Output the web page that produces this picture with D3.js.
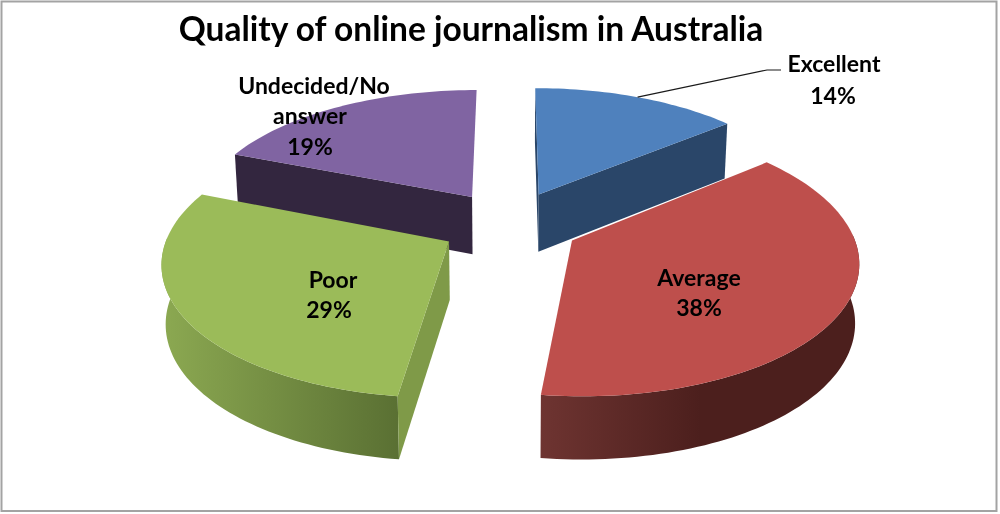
<!DOCTYPE html>
<html>
<head>
<meta charset="utf-8">
<script src="https://cdn.jsdelivr.net/npm/d3@7"></script>
<style>
    html, body { margin: 0; padding: 0; background: #fff; }
    svg { display: block; filter: blur(0.4px); }
    text { font-family: Lato, "Open Sans", sans-serif; font-weight: 700; fill: #000; text-anchor: middle; }
</style>
</head>
<body>
<div id="chartContainer"></div>
<script>
const titleText = "Quality of online journalism in Australia";
const categories = ["Excellent", "Average", "Poor", "Undecided/No answer"];
const shares = [14, 38, 29, 19];

const width = 1000;
const height = 514;

// projection of the pie plane, fitted by eye to the reference
const cx = 510, cy = 224;
const radiusX = 278, radiusY = 129;
const perspective = 0.14;
const explodeX = 0.25, explodeY = 0.26;
const thickness = 58;

// walls: which cut faces can be seen from the camera
const styles = [
    { top: "#4f81bd", side: "#2a4669", wall: "#2a4669", walls: ["startAngle", "endAngle"] },
    { top: "#be4f4c", side: "url(#redWall)", wall: "#4c1f1d", walls: [] },
    { top: "#9bbb59", side: "url(#greenWall)", wall: "#7f9a48", walls: ["startAngle"] },
    { top: "#8064a2", side: "#33263f", wall: "#33263f", walls: ["startAngle"] }
];

const labelLines = [
    { x: [834], y: [72], pctX: 833, pct: 104 },
    { x: [699], y: [286], pctX: 699, pct: 316 },
    { x: [333], y: [288], pctX: 329, pct: 318 },
    { x: [314, 310], y: [94, 124], pctX: 310, pct: 155 }
];

const svg = d3.select("#chartContainer")
    .append("svg")
    .attr("width", width)
    .attr("height", height);

const defs = svg.append("defs");

function addGradient(id, x1, x2, from, to, stopAt) {
    const g = defs.append("linearGradient")
        .attr("id", id)
        .attr("gradientUnits", "userSpaceOnUse")
        .attr("x1", x1).attr("x2", x2)
        .attr("y1", 0).attr("y2", 0);
    g.append("stop").attr("offset", 0).attr("stop-color", from);
    g.append("stop").attr("offset", stopAt).attr("stop-color", to);
}
addGradient("redWall", 541, 860, "#6e3431", "#4c1f1d", 0.5);
addGradient("greenWall", 165, 398, "#8ba851", "#5a7033", 1);

svg.append("rect")
    .attr("x", 1.5).attr("y", 1.5)
    .attr("width", 995).attr("height", 509.5)
    .attr("fill", "#fff")
    .attr("stroke", "#a3a3a3")
    .attr("stroke-width", 2);

svg.append("text")
    .attr("x", 471)
    .attr("y", 41)
    .style("font-size", "33.5px")
    .text(titleText);

const pie = d3.pie().sort(null).value(d => d);
const slices = pie(shares);

// u, v are pie plane coordinates with radius 1, level 0 is the top face and 1 the bottom
function project(u, v, level) {
    const w = 1 / (1 - perspective * v);
    const shrink = 1 - 0.012 * level;
    return [
        cx + radiusX * u * w * shrink,
        cy + radiusY * v * w + level * thickness * Math.sqrt(w)
    ];
}

const line = d3.line();

function slicePoint(d, angle, r, level) {
    const mid = (d.startAngle + d.endAngle) / 2;
    const u = Math.sin(mid) * explodeX + r * Math.sin(angle);
    const v = -Math.cos(mid) * explodeY - r * Math.cos(angle);
    return project(u, v, level);
}

function arcAngles(d) {
    const steps = Math.ceil((d.endAngle - d.startAngle) * 40);
    return d3.range(steps + 1).map(i => d.startAngle + (d.endAngle - d.startAngle) * i / steps);
}

// far slices first so the near ones cover them
const drawOrder = [3, 0, 2, 1];

drawOrder.forEach(function(i) {
    const d = slices[i];
    const style = styles[i];
    const group = svg.append("g").attr("class", "slice");
    const angles = arcAngles(d);

    // the outer wall only shows on the near half of the rim
    const frontAngles = angles.filter(a => Math.cos(a) <= 0.05);
    if (frontAngles.length > 1) {
        const topRim = frontAngles.map(a => slicePoint(d, a, 1, 0));
        const bottomRim = frontAngles.map(a => slicePoint(d, a, 1, 1));
        group.append("path")
            .attr("d", line(topRim.concat(bottomRim.reverse())) + "Z")
            .attr("fill", style.side);
    }

    style.walls.forEach(function(key) {
        const a = d[key];
        const face = [
            slicePoint(d, a, 0, 0),
            slicePoint(d, a, 1, 0),
            slicePoint(d, a, 1, 1),
            slicePoint(d, a, 0, 1)
        ];
        group.append("path")
            .attr("d", line(face) + "Z")
            .attr("fill", style.wall);
    });

    const topEdge = angles.map(a => slicePoint(d, a, 1, 0));
    group.append("path")
        .attr("d", line([slicePoint(d, 0, 0, 0)].concat(topEdge)) + "Z")
        .attr("fill", style.top);
});

// leader line of the first slice
const leaderStart = slicePoint(slices[0], (slices[0].startAngle + slices[0].endAngle) / 2, 1, 0);
svg.append("path")
    .attr("d", line([leaderStart, [767, 70], [781, 70]]))
    .attr("fill", "none")
    .attr("stroke", "#1a1a1a")
    .attr("stroke-width", 1.2);

const labelWords = [["Excellent"], ["Average"], ["Poor"], ["Undecided/No", "answer"]];

const labels = svg.append("g").attr("class", "labels").style("font-size", "23px");
categories.forEach(function(name, i) {
    const pos = labelLines[i];
    const words = labelWords[i];
    words.forEach(function(w, j) {
        labels.append("text").attr("x", pos.x[j]).attr("y", pos.y[j]).text(w);
    });
    labels.append("text").attr("x", pos.pctX).attr("y", pos.pct).text(shares[i] + "%");
});
</script>
</body>
</html>
